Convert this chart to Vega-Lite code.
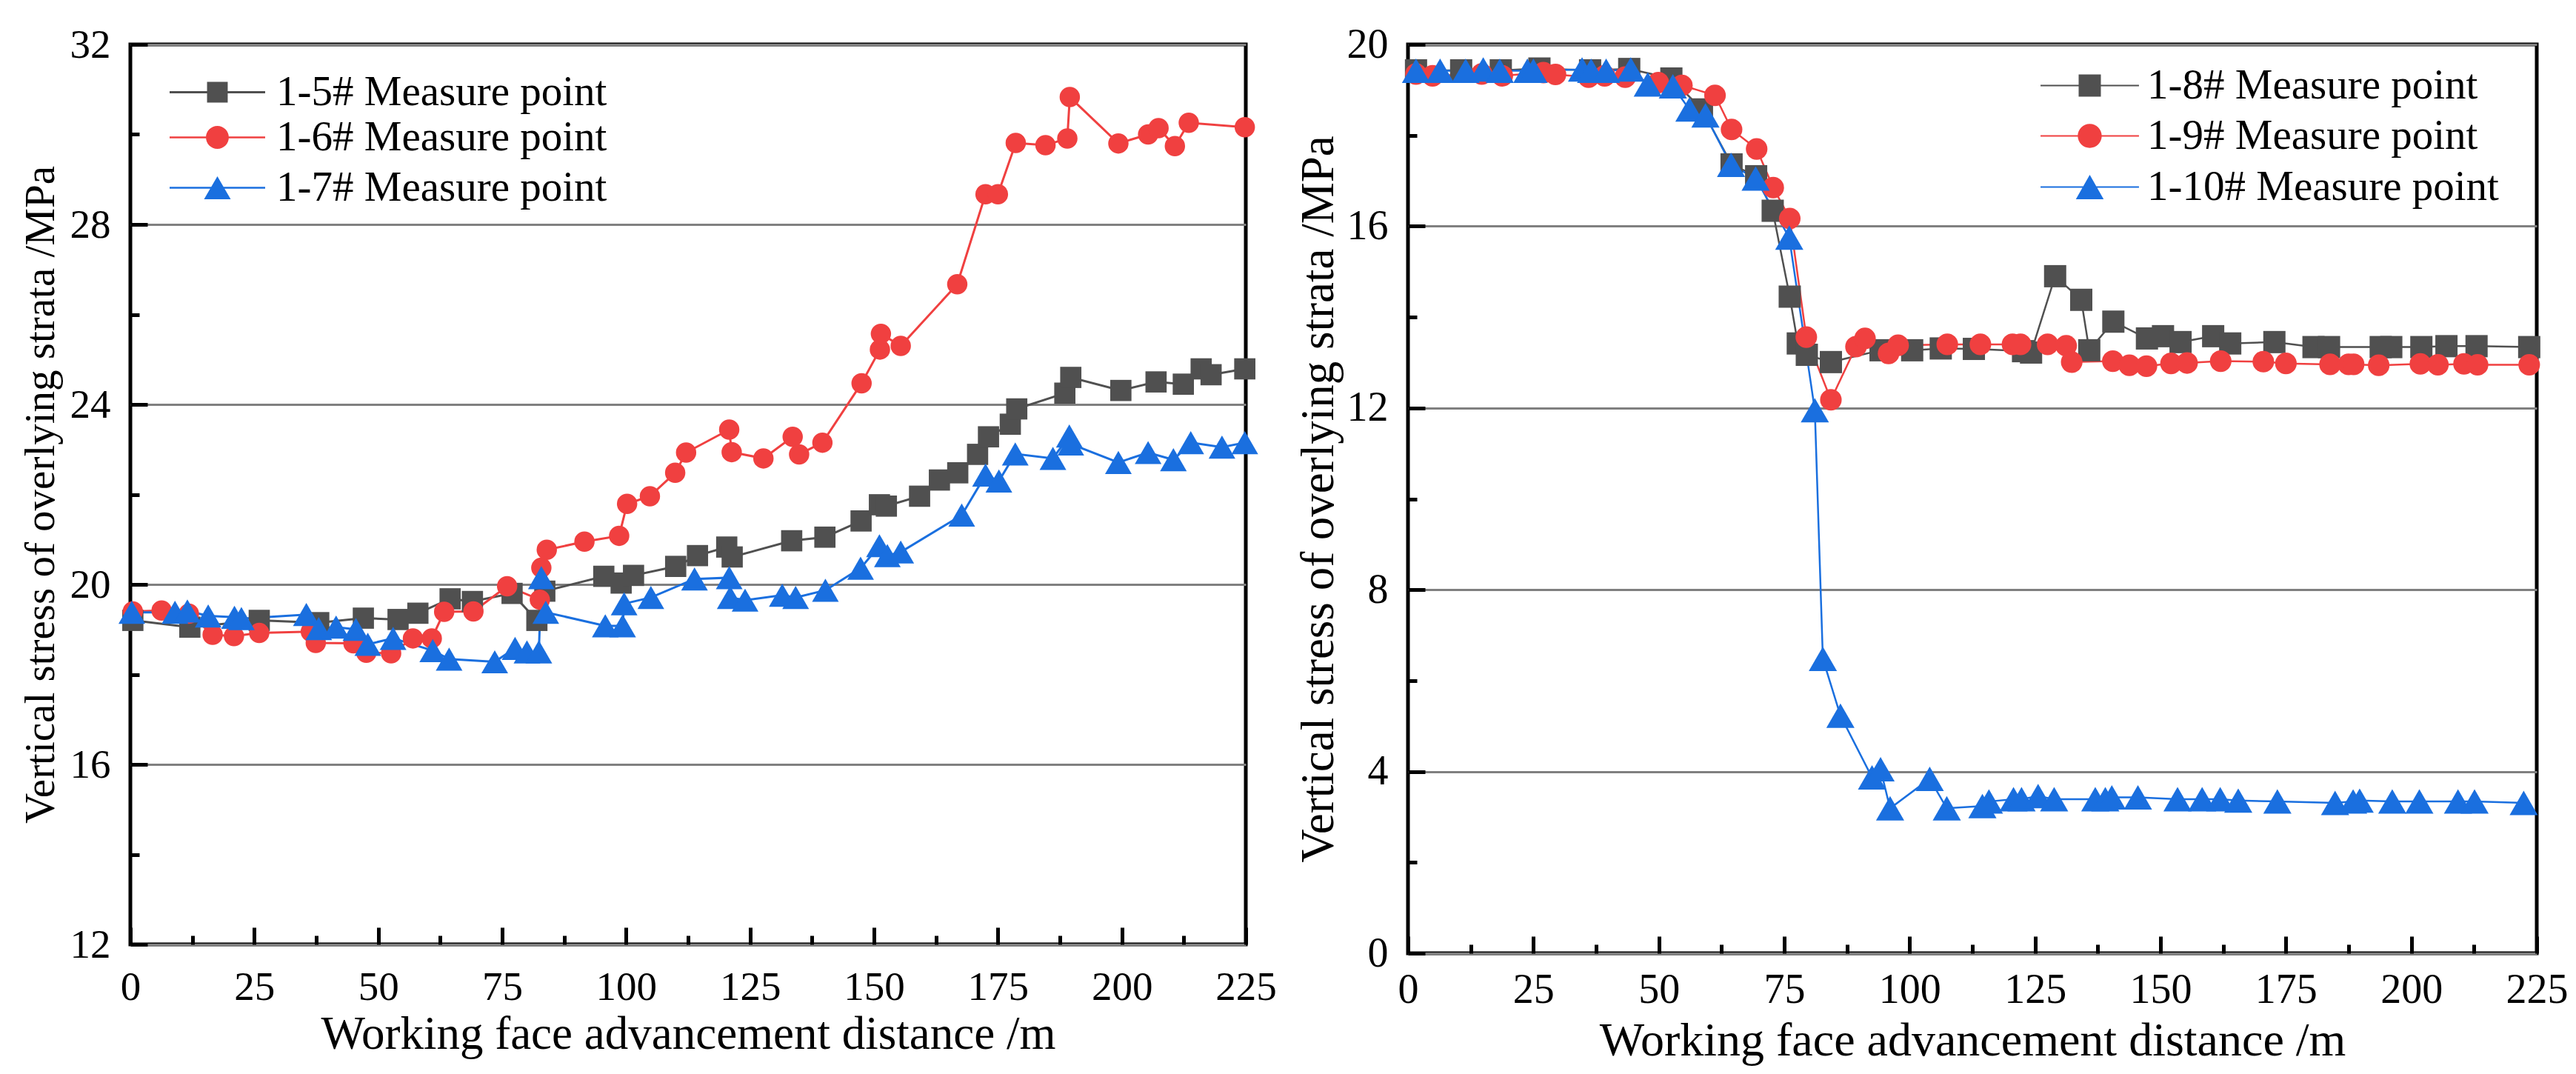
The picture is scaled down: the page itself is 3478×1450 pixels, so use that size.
{
  "$schema": "https://vega.github.io/schema/vega-lite/v6.json",
  "description": "Vertical stress of overlying strata against working face advancement distance, two groups of measure points.",
  "background": "white",
  "padding": {"left": 23, "top": 29, "right": 10, "bottom": 0},
  "spacing": 20,
  "resolve": {"scale": {"color": "independent", "shape": "independent", "opacity": "independent", "stroke": "independent"}},
  "config": {
    "font": "Times New Roman",
    "view": {"stroke": "black", "strokeWidth": 5},
    "axis": {
      "domain": false,
      "tickColor": "black",
      "tickWidth": 5,
      "labelColor": "black",
      "titleColor": "black",
      "labelFont": "Times New Roman",
      "titleFont": "Times New Roman",
      "titleFontWeight": "normal",
      "labelFlush": false,
      "labelOverlap": false,
      "gridColor": "#808080",
      "gridWidth": 3
    },
    "legend": {
      "orient": "none",
      "title": null,
      "padding": 0,
      "symbolSize": 900,
      "symbolStrokeWidth": 0,
      "labelOffset": 51,
      "labelFont": "Times New Roman",
      "labelColor": "black",
      "labelLimit": 1000
    }
  },
  "datasets": {
    "left": [
      {"d": 0.5, "s": 19.2, "series": "1-5# Measure point"},
      {"d": 12, "s": 19.05, "series": "1-5# Measure point"},
      {"d": 26, "s": 19.2, "series": "1-5# Measure point"},
      {"d": 38, "s": 19.15, "series": "1-5# Measure point"},
      {"d": 47, "s": 19.25, "series": "1-5# Measure point"},
      {"d": 54, "s": 19.22, "series": "1-5# Measure point"},
      {"d": 58, "s": 19.36, "series": "1-5# Measure point"},
      {"d": 64.5, "s": 19.68, "series": "1-5# Measure point"},
      {"d": 69, "s": 19.62, "series": "1-5# Measure point"},
      {"d": 77, "s": 19.8, "series": "1-5# Measure point"},
      {"d": 82, "s": 19.2, "series": "1-5# Measure point"},
      {"d": 83.6, "s": 19.85, "series": "1-5# Measure point"},
      {"d": 95.5, "s": 20.18, "series": "1-5# Measure point"},
      {"d": 99, "s": 20.03, "series": "1-5# Measure point"},
      {"d": 101.5, "s": 20.2, "series": "1-5# Measure point"},
      {"d": 110, "s": 20.4, "series": "1-5# Measure point"},
      {"d": 114.4, "s": 20.64, "series": "1-5# Measure point"},
      {"d": 120.3, "s": 20.83, "series": "1-5# Measure point"},
      {"d": 121.4, "s": 20.61, "series": "1-5# Measure point"},
      {"d": 133.4, "s": 20.97, "series": "1-5# Measure point"},
      {"d": 140.1, "s": 21.05, "series": "1-5# Measure point"},
      {"d": 147.4, "s": 21.41, "series": "1-5# Measure point"},
      {"d": 151.1, "s": 21.77, "series": "1-5# Measure point"},
      {"d": 152.5, "s": 21.74, "series": "1-5# Measure point"},
      {"d": 159.2, "s": 21.96, "series": "1-5# Measure point"},
      {"d": 163.2, "s": 22.32, "series": "1-5# Measure point"},
      {"d": 166.9, "s": 22.48, "series": "1-5# Measure point"},
      {"d": 170.9, "s": 22.89, "series": "1-5# Measure point"},
      {"d": 173.1, "s": 23.28, "series": "1-5# Measure point"},
      {"d": 177.5, "s": 23.56, "series": "1-5# Measure point"},
      {"d": 178.8, "s": 23.9, "series": "1-5# Measure point"},
      {"d": 188.5, "s": 24.25, "series": "1-5# Measure point"},
      {"d": 189.7, "s": 24.6, "series": "1-5# Measure point"},
      {"d": 199.8, "s": 24.31, "series": "1-5# Measure point"},
      {"d": 206.9, "s": 24.5, "series": "1-5# Measure point"},
      {"d": 212.4, "s": 24.45, "series": "1-5# Measure point"},
      {"d": 216, "s": 24.79, "series": "1-5# Measure point"},
      {"d": 218, "s": 24.66, "series": "1-5# Measure point"},
      {"d": 224.8, "s": 24.79, "series": "1-5# Measure point"},
      {"d": 0.5, "s": 19.4, "series": "1-6# Measure point"},
      {"d": 6.3, "s": 19.42, "series": "1-6# Measure point"},
      {"d": 11.8, "s": 19.35, "series": "1-6# Measure point"},
      {"d": 16.6, "s": 18.88, "series": "1-6# Measure point"},
      {"d": 20.9, "s": 18.85, "series": "1-6# Measure point"},
      {"d": 26, "s": 18.92, "series": "1-6# Measure point"},
      {"d": 36.4, "s": 18.95, "series": "1-6# Measure point"},
      {"d": 37.4, "s": 18.7, "series": "1-6# Measure point"},
      {"d": 45, "s": 18.69, "series": "1-6# Measure point"},
      {"d": 47.6, "s": 18.48, "series": "1-6# Measure point"},
      {"d": 52.6, "s": 18.47, "series": "1-6# Measure point"},
      {"d": 57, "s": 18.8, "series": "1-6# Measure point"},
      {"d": 60.8, "s": 18.8, "series": "1-6# Measure point"},
      {"d": 63.3, "s": 19.39, "series": "1-6# Measure point"},
      {"d": 69.2, "s": 19.4, "series": "1-6# Measure point"},
      {"d": 76, "s": 19.96, "series": "1-6# Measure point"},
      {"d": 82.6, "s": 19.66, "series": "1-6# Measure point"},
      {"d": 82.9, "s": 20.37, "series": "1-6# Measure point"},
      {"d": 84, "s": 20.77, "series": "1-6# Measure point"},
      {"d": 91.6, "s": 20.95, "series": "1-6# Measure point"},
      {"d": 98.6, "s": 21.08, "series": "1-6# Measure point"},
      {"d": 100.2, "s": 21.79, "series": "1-6# Measure point"},
      {"d": 104.8, "s": 21.96, "series": "1-6# Measure point"},
      {"d": 109.9, "s": 22.48, "series": "1-6# Measure point"},
      {"d": 112.1, "s": 22.93, "series": "1-6# Measure point"},
      {"d": 120.8, "s": 23.44, "series": "1-6# Measure point"},
      {"d": 121.3, "s": 22.94, "series": "1-6# Measure point"},
      {"d": 127.7, "s": 22.8, "series": "1-6# Measure point"},
      {"d": 133.6, "s": 23.28, "series": "1-6# Measure point"},
      {"d": 134.9, "s": 22.89, "series": "1-6# Measure point"},
      {"d": 139.6, "s": 23.15, "series": "1-6# Measure point"},
      {"d": 147.5, "s": 24.47, "series": "1-6# Measure point"},
      {"d": 151.2, "s": 25.22, "series": "1-6# Measure point"},
      {"d": 151.4, "s": 25.57, "series": "1-6# Measure point"},
      {"d": 155.4, "s": 25.3, "series": "1-6# Measure point"},
      {"d": 166.8, "s": 26.67, "series": "1-6# Measure point"},
      {"d": 172.5, "s": 28.67, "series": "1-6# Measure point"},
      {"d": 175, "s": 28.67, "series": "1-6# Measure point"},
      {"d": 178.6, "s": 29.81, "series": "1-6# Measure point"},
      {"d": 184.6, "s": 29.76, "series": "1-6# Measure point"},
      {"d": 189, "s": 29.91, "series": "1-6# Measure point"},
      {"d": 189.5, "s": 30.83, "series": "1-6# Measure point"},
      {"d": 199.3, "s": 29.8, "series": "1-6# Measure point"},
      {"d": 205.3, "s": 30, "series": "1-6# Measure point"},
      {"d": 207.4, "s": 30.14, "series": "1-6# Measure point"},
      {"d": 210.7, "s": 29.74, "series": "1-6# Measure point"},
      {"d": 213.5, "s": 30.26, "series": "1-6# Measure point"},
      {"d": 224.8, "s": 30.16, "series": "1-6# Measure point"},
      {"d": 0.3, "s": 19.38, "series": "1-7# Measure point"},
      {"d": 9, "s": 19.38, "series": "1-7# Measure point"},
      {"d": 11.5, "s": 19.41, "series": "1-7# Measure point"},
      {"d": 15.7, "s": 19.3, "series": "1-7# Measure point"},
      {"d": 21, "s": 19.27, "series": "1-7# Measure point"},
      {"d": 22.4, "s": 19.24, "series": "1-7# Measure point"},
      {"d": 35.5, "s": 19.33, "series": "1-7# Measure point"},
      {"d": 38, "s": 19.02, "series": "1-7# Measure point"},
      {"d": 41.5, "s": 19.05, "series": "1-7# Measure point"},
      {"d": 45.5, "s": 19, "series": "1-7# Measure point"},
      {"d": 47.9, "s": 18.67, "series": "1-7# Measure point"},
      {"d": 53, "s": 18.8, "series": "1-7# Measure point"},
      {"d": 61, "s": 18.53, "series": "1-7# Measure point"},
      {"d": 64.3, "s": 18.34, "series": "1-7# Measure point"},
      {"d": 73.5, "s": 18.28, "series": "1-7# Measure point"},
      {"d": 77.6, "s": 18.58, "series": "1-7# Measure point"},
      {"d": 80, "s": 18.5, "series": "1-7# Measure point"},
      {"d": 82.4, "s": 18.5, "series": "1-7# Measure point"},
      {"d": 82.9, "s": 20.15, "series": "1-7# Measure point"},
      {"d": 83.8, "s": 19.38, "series": "1-7# Measure point"},
      {"d": 95.8, "s": 19.08, "series": "1-7# Measure point"},
      {"d": 99.3, "s": 19.08, "series": "1-7# Measure point"},
      {"d": 99.6, "s": 19.57, "series": "1-7# Measure point"},
      {"d": 105, "s": 19.71, "series": "1-7# Measure point"},
      {"d": 113.8, "s": 20.12, "series": "1-7# Measure point"},
      {"d": 120.8, "s": 20.15, "series": "1-7# Measure point"},
      {"d": 121, "s": 19.71, "series": "1-7# Measure point"},
      {"d": 124, "s": 19.65, "series": "1-7# Measure point"},
      {"d": 131.5, "s": 19.76, "series": "1-7# Measure point"},
      {"d": 134.2, "s": 19.71, "series": "1-7# Measure point"},
      {"d": 140.2, "s": 19.87, "series": "1-7# Measure point"},
      {"d": 147.3, "s": 20.36, "series": "1-7# Measure point"},
      {"d": 151.1, "s": 20.86, "series": "1-7# Measure point"},
      {"d": 152.7, "s": 20.64, "series": "1-7# Measure point"},
      {"d": 155.4, "s": 20.72, "series": "1-7# Measure point"},
      {"d": 167.7, "s": 21.54, "series": "1-7# Measure point"},
      {"d": 172.5, "s": 22.43, "series": "1-7# Measure point"},
      {"d": 175.2, "s": 22.3, "series": "1-7# Measure point"},
      {"d": 178.5, "s": 22.9, "series": "1-7# Measure point"},
      {"d": 186.1, "s": 22.8, "series": "1-7# Measure point"},
      {"d": 189.4, "s": 23.3, "series": "1-7# Measure point"},
      {"d": 189.7, "s": 23.12, "series": "1-7# Measure point"},
      {"d": 199.3, "s": 22.71, "series": "1-7# Measure point"},
      {"d": 205.3, "s": 22.93, "series": "1-7# Measure point"},
      {"d": 210.4, "s": 22.77, "series": "1-7# Measure point"},
      {"d": 213.9, "s": 23.15, "series": "1-7# Measure point"},
      {"d": 220.2, "s": 23.05, "series": "1-7# Measure point"},
      {"d": 224.8, "s": 23.15, "series": "1-7# Measure point"}
    ],
    "right": [
      {"d": 1.6, "s": 19.43, "series": "1-8# Measure point"},
      {"d": 10.6, "s": 19.43, "series": "1-8# Measure point"},
      {"d": 18.5, "s": 19.43, "series": "1-8# Measure point"},
      {"d": 26.2, "s": 19.47, "series": "1-8# Measure point"},
      {"d": 36.3, "s": 19.43, "series": "1-8# Measure point"},
      {"d": 44.1, "s": 19.46, "series": "1-8# Measure point"},
      {"d": 52.5, "s": 19.25, "series": "1-8# Measure point"},
      {"d": 58.6, "s": 18.57, "series": "1-8# Measure point"},
      {"d": 64.5, "s": 17.36, "series": "1-8# Measure point"},
      {"d": 69.4, "s": 17.1, "series": "1-8# Measure point"},
      {"d": 72.7, "s": 16.34, "series": "1-8# Measure point"},
      {"d": 76.1, "s": 14.45, "series": "1-8# Measure point"},
      {"d": 77.7, "s": 13.42, "series": "1-8# Measure point"},
      {"d": 79.5, "s": 13.17, "series": "1-8# Measure point"},
      {"d": 84.3, "s": 13.01, "series": "1-8# Measure point"},
      {"d": 94.2, "s": 13.27, "series": "1-8# Measure point"},
      {"d": 100.5, "s": 13.27, "series": "1-8# Measure point"},
      {"d": 106.2, "s": 13.31, "series": "1-8# Measure point"},
      {"d": 112.8, "s": 13.3, "series": "1-8# Measure point"},
      {"d": 122.6, "s": 13.25, "series": "1-8# Measure point"},
      {"d": 124.2, "s": 13.22, "series": "1-8# Measure point"},
      {"d": 129, "s": 14.9, "series": "1-8# Measure point"},
      {"d": 134.2, "s": 14.38, "series": "1-8# Measure point"},
      {"d": 135.8, "s": 13.27, "series": "1-8# Measure point"},
      {"d": 140.6, "s": 13.9, "series": "1-8# Measure point"},
      {"d": 147.3, "s": 13.53, "series": "1-8# Measure point"},
      {"d": 150.5, "s": 13.58, "series": "1-8# Measure point"},
      {"d": 154, "s": 13.45, "series": "1-8# Measure point"},
      {"d": 160.5, "s": 13.58, "series": "1-8# Measure point"},
      {"d": 163.9, "s": 13.42, "series": "1-8# Measure point"},
      {"d": 172.7, "s": 13.45, "series": "1-8# Measure point"},
      {"d": 180.5, "s": 13.34, "series": "1-8# Measure point"},
      {"d": 183.6, "s": 13.34, "series": "1-8# Measure point"},
      {"d": 193.9, "s": 13.34, "series": "1-8# Measure point"},
      {"d": 196, "s": 13.34, "series": "1-8# Measure point"},
      {"d": 202, "s": 13.34, "series": "1-8# Measure point"},
      {"d": 207, "s": 13.36, "series": "1-8# Measure point"},
      {"d": 213, "s": 13.36, "series": "1-8# Measure point"},
      {"d": 223.5, "s": 13.34, "series": "1-8# Measure point"},
      {"d": 1.6, "s": 19.35, "series": "1-9# Measure point"},
      {"d": 4.9, "s": 19.31, "series": "1-9# Measure point"},
      {"d": 14.7, "s": 19.35, "series": "1-9# Measure point"},
      {"d": 18.8, "s": 19.31, "series": "1-9# Measure point"},
      {"d": 27, "s": 19.38, "series": "1-9# Measure point"},
      {"d": 29.4, "s": 19.34, "series": "1-9# Measure point"},
      {"d": 36, "s": 19.28, "series": "1-9# Measure point"},
      {"d": 39.2, "s": 19.31, "series": "1-9# Measure point"},
      {"d": 43.3, "s": 19.28, "series": "1-9# Measure point"},
      {"d": 49.9, "s": 19.16, "series": "1-9# Measure point"},
      {"d": 54.6, "s": 19.1, "series": "1-9# Measure point"},
      {"d": 61.2, "s": 18.88, "series": "1-9# Measure point"},
      {"d": 64.5, "s": 18.13, "series": "1-9# Measure point"},
      {"d": 69.5, "s": 17.7, "series": "1-9# Measure point"},
      {"d": 72.8, "s": 16.85, "series": "1-9# Measure point"},
      {"d": 76.1, "s": 16.17, "series": "1-9# Measure point"},
      {"d": 79.4, "s": 13.56, "series": "1-9# Measure point"},
      {"d": 84.3, "s": 12.18, "series": "1-9# Measure point"},
      {"d": 89.3, "s": 13.35, "series": "1-9# Measure point"},
      {"d": 91.1, "s": 13.53, "series": "1-9# Measure point"},
      {"d": 95.8, "s": 13.2, "series": "1-9# Measure point"},
      {"d": 97.7, "s": 13.38, "series": "1-9# Measure point"},
      {"d": 107.5, "s": 13.4, "series": "1-9# Measure point"},
      {"d": 114.1, "s": 13.4, "series": "1-9# Measure point"},
      {"d": 120.5, "s": 13.4, "series": "1-9# Measure point"},
      {"d": 122.1, "s": 13.4, "series": "1-9# Measure point"},
      {"d": 127.5, "s": 13.4, "series": "1-9# Measure point"},
      {"d": 131.2, "s": 13.37, "series": "1-9# Measure point"},
      {"d": 132.3, "s": 13.01, "series": "1-9# Measure point"},
      {"d": 140.5, "s": 13.03, "series": "1-9# Measure point"},
      {"d": 143.8, "s": 12.94, "series": "1-9# Measure point"},
      {"d": 147.2, "s": 12.92, "series": "1-9# Measure point"},
      {"d": 152.1, "s": 12.98, "series": "1-9# Measure point"},
      {"d": 155.3, "s": 12.99, "series": "1-9# Measure point"},
      {"d": 162, "s": 13.03, "series": "1-9# Measure point"},
      {"d": 170.5, "s": 13.02, "series": "1-9# Measure point"},
      {"d": 175, "s": 12.98, "series": "1-9# Measure point"},
      {"d": 183.8, "s": 12.96, "series": "1-9# Measure point"},
      {"d": 187.5, "s": 12.96, "series": "1-9# Measure point"},
      {"d": 188.5, "s": 12.96, "series": "1-9# Measure point"},
      {"d": 193.5, "s": 12.94, "series": "1-9# Measure point"},
      {"d": 201.8, "s": 12.97, "series": "1-9# Measure point"},
      {"d": 205.3, "s": 12.95, "series": "1-9# Measure point"},
      {"d": 210.5, "s": 12.97, "series": "1-9# Measure point"},
      {"d": 213.2, "s": 12.95, "series": "1-9# Measure point"},
      {"d": 223.5, "s": 12.95, "series": "1-9# Measure point"},
      {"d": 1.6, "s": 19.42, "series": "1-10# Measure point"},
      {"d": 6.4, "s": 19.42, "series": "1-10# Measure point"},
      {"d": 11.5, "s": 19.42, "series": "1-10# Measure point"},
      {"d": 15, "s": 19.45, "series": "1-10# Measure point"},
      {"d": 18.3, "s": 19.42, "series": "1-10# Measure point"},
      {"d": 23.8, "s": 19.42, "series": "1-10# Measure point"},
      {"d": 25, "s": 19.42, "series": "1-10# Measure point"},
      {"d": 34.7, "s": 19.45, "series": "1-10# Measure point"},
      {"d": 36.5, "s": 19.42, "series": "1-10# Measure point"},
      {"d": 39.5, "s": 19.42, "series": "1-10# Measure point"},
      {"d": 44.4, "s": 19.45, "series": "1-10# Measure point"},
      {"d": 47.8, "s": 19.12, "series": "1-10# Measure point"},
      {"d": 52.8, "s": 19.08, "series": "1-10# Measure point"},
      {"d": 56.1, "s": 18.57, "series": "1-10# Measure point"},
      {"d": 59.3, "s": 18.44, "series": "1-10# Measure point"},
      {"d": 64.4, "s": 17.35, "series": "1-10# Measure point"},
      {"d": 69.3, "s": 17.05, "series": "1-10# Measure point"},
      {"d": 76, "s": 15.75, "series": "1-10# Measure point"},
      {"d": 81.1, "s": 11.95, "series": "1-10# Measure point"},
      {"d": 82.7, "s": 6.48, "series": "1-10# Measure point"},
      {"d": 86.2, "s": 5.23, "series": "1-10# Measure point"},
      {"d": 92.5, "s": 3.87, "series": "1-10# Measure point"},
      {"d": 94.2, "s": 4.05, "series": "1-10# Measure point"},
      {"d": 96.1, "s": 3.19, "series": "1-10# Measure point"},
      {"d": 104, "s": 3.84, "series": "1-10# Measure point"},
      {"d": 107.4, "s": 3.19, "series": "1-10# Measure point"},
      {"d": 114.5, "s": 3.24, "series": "1-10# Measure point"},
      {"d": 115.8, "s": 3.34, "series": "1-10# Measure point"},
      {"d": 120.7, "s": 3.39, "series": "1-10# Measure point"},
      {"d": 122.3, "s": 3.39, "series": "1-10# Measure point"},
      {"d": 125.6, "s": 3.46, "series": "1-10# Measure point"},
      {"d": 128.8, "s": 3.39, "series": "1-10# Measure point"},
      {"d": 137, "s": 3.39, "series": "1-10# Measure point"},
      {"d": 139, "s": 3.39, "series": "1-10# Measure point"},
      {"d": 140.3, "s": 3.43, "series": "1-10# Measure point"},
      {"d": 145.5, "s": 3.43, "series": "1-10# Measure point"},
      {"d": 153.4, "s": 3.39, "series": "1-10# Measure point"},
      {"d": 158.3, "s": 3.39, "series": "1-10# Measure point"},
      {"d": 161.9, "s": 3.39, "series": "1-10# Measure point"},
      {"d": 165.5, "s": 3.36, "series": "1-10# Measure point"},
      {"d": 173.3, "s": 3.34, "series": "1-10# Measure point"},
      {"d": 184.8, "s": 3.31, "series": "1-10# Measure point"},
      {"d": 188.4, "s": 3.34, "series": "1-10# Measure point"},
      {"d": 189.7, "s": 3.36, "series": "1-10# Measure point"},
      {"d": 196.2, "s": 3.34, "series": "1-10# Measure point"},
      {"d": 201.6, "s": 3.34, "series": "1-10# Measure point"},
      {"d": 209.3, "s": 3.34, "series": "1-10# Measure point"},
      {"d": 212.6, "s": 3.34, "series": "1-10# Measure point"},
      {"d": 222.4, "s": 3.31, "series": "1-10# Measure point"}
    ]
  },
  "hconcat": [
    {
      "width": 1506,
      "height": 1215,
      "data": {"name": "left"},
      "resolve": {"axis": {"x": "independent", "y": "independent"}},
      "layer": [
        {
          "mark": {"type": "line", "strokeWidth": 3},
          "encoding": {
            "x": {
              "field": "d", "type": "quantitative",
              "scale": {"domain": [0, 225], "nice": false, "zero": false},
              "axis": {
                "orient": "bottom", "values": [0, 25, 50, 75, 100, 125, 150, 175, 200, 225],
                "title": "Working face advancement distance /m",
                "labelFontSize": 55, "titleFontSize": 63,
                "tickSize": -23, "labelPadding": 54, "titlePadding": 5, "grid": false
              }
            },
            "y": {
              "field": "s", "type": "quantitative",
              "scale": {"domain": [12, 32], "nice": false, "zero": false},
              "axis": {
                "orient": "left", "values": [12, 16, 20, 24, 28, 32],
                "title": "Vertical stress of overlying strata /MPa",
                "labelFontSize": 55, "titleFontSize": 57,
                "tickSize": -23, "labelPadding": 50, "titlePadding": 10, "grid": true
              }
            },
            "color": {
              "field": "series", "type": "nominal",
              "scale": {
                "domain": ["1-5# Measure point", "1-6# Measure point", "1-7# Measure point"],
                "range": ["#505050", "#f04040", "#1a6fdf"]
              },
              "legend": null
            }
          }
        },
        {
          "transform": [{"filter": "false"}],
          "mark": {"type": "point", "filled": true, "opacity": 1, "color": "#505050"},
          "encoding": {
            "x": {"field": "d", "type": "quantitative", "axis": null},
            "y": {"field": "s", "type": "quantitative", "axis": null},
            "shape": {
              "field": "series", "type": "nominal",
              "scale": {"domain": ["1-5# Measure point"], "range": ["M-4.3,-0.1L4.3,-0.1L4.3,0.1L-4.3,0.1ZM-0.93,-0.93L0.93,-0.93L0.93,0.93L-0.93,0.93Z"]},
              "legend": {"legendX": 89, "legendY": 36, "labelFontSize": 57, "symbolFillColor": "#505050"}
            }
          }
        },
        {
          "transform": [{"filter": "false"}],
          "mark": {"type": "point", "filled": true, "color": "#f04040"},
          "encoding": {
            "x": {"field": "d", "type": "quantitative", "axis": null},
            "y": {"field": "s", "type": "quantitative", "axis": null},
            "opacity": {
              "field": "series", "type": "ordinal",
              "scale": {"domain": ["1-6# Measure point"], "range": [1]},
              "legend": {
                "legendX": 89, "legendY": 97, "labelFontSize": 57, "symbolFillColor": "#f04040",
                "symbolType": "M-4.3,-0.08L4.3,-0.08L4.3,0.08L-4.3,0.08ZM-1.03,0A1.03,1.03,0,1,1,1.03,0A1.03,1.03,0,1,1,-1.03,0Z"
              }
            }
          }
        },
        {
          "transform": [{"filter": "false"}],
          "mark": {"type": "point", "filled": true, "opacity": 1, "color": "#1a6fdf"},
          "encoding": {
            "x": {"field": "d", "type": "quantitative", "axis": null},
            "y": {"field": "s", "type": "quantitative", "axis": null},
            "stroke": {
              "field": "series", "type": "nominal",
              "scale": {"domain": ["1-7# Measure point"], "range": ["#1a6fdf"]},
              "legend": {
                "legendX": 89, "legendY": 165, "labelFontSize": 57, "symbolFillColor": "#1a6fdf",
                "symbolType": "M-4.3,-0.08L4.3,-0.08L4.3,0.08L-4.3,0.08ZM0,-1.04L1.2,1.04L-1.2,1.04Z"
              }
            }
          }
        },
        {
          "transform": [{"filter": "datum.series === '1-5# Measure point'"}],
          "mark": {"type": "point", "shape": "square", "filled": true, "opacity": 1, "size": 820, "color": "#505050"},
          "encoding": {
            "x": {"field": "d", "type": "quantitative", "axis": null},
            "y": {"field": "s", "type": "quantitative", "axis": null}
          }
        },
        {
          "transform": [{"filter": "datum.series === '1-6# Measure point'"}],
          "mark": {"type": "point", "shape": "circle", "filled": true, "opacity": 1, "size": 755, "color": "#f04040"},
          "encoding": {
            "x": {"field": "d", "type": "quantitative", "axis": null},
            "y": {"field": "s", "type": "quantitative", "axis": null}
          }
        },
        {
          "transform": [{"filter": "datum.series === '1-7# Measure point'"}],
          "mark": {"type": "point", "shape": "triangle-up", "filled": true, "opacity": 1, "size": 1300, "color": "#1a6fdf"},
          "encoding": {
            "x": {"field": "d", "type": "quantitative", "axis": null},
            "y": {"field": "s", "type": "quantitative", "axis": null}
          }
        },
        {
          "mark": {"type": "line", "opacity": 0},
          "encoding": {
            "x": {
              "field": "d", "type": "quantitative",
              "axis": {
                "orient": "bottom", "values": [12.5, 37.5, 62.5, 87.5, 112.5, 137.5, 162.5, 187.5, 212.5],
                "labels": false, "title": null, "tickSize": -12, "grid": false
              }
            },
            "y": {
              "field": "s", "type": "quantitative",
              "axis": {
                "orient": "left", "values": [14, 18, 22, 26, 30],
                "labels": false, "title": null, "tickSize": -12, "grid": false
              }
            },
            "detail": {"field": "series", "type": "nominal"}
          }
        }
      ]
    },
    {
      "width": 1524,
      "height": 1227,
      "data": {"name": "right"},
      "resolve": {"axis": {"x": "independent", "y": "independent"}},
      "layer": [
        {
          "mark": {"type": "line", "strokeWidth": 2.5},
          "encoding": {
            "x": {
              "field": "d", "type": "quantitative",
              "scale": {"domain": [0, 225], "nice": false, "zero": false},
              "axis": {
                "orient": "bottom", "values": [0, 25, 50, 75, 100, 125, 150, 175, 200, 225],
                "title": "Working face advancement distance /m",
                "labelFontSize": 56, "titleFontSize": 64,
                "tickSize": -23, "labelPadding": 45, "titlePadding": 9, "grid": false
              }
            },
            "y": {
              "field": "s", "type": "quantitative",
              "scale": {"domain": [0, 20], "nice": false, "zero": false},
              "axis": {
                "orient": "left", "values": [0, 4, 8, 12, 16, 20],
                "title": "Vertical stress of overlying strata /MPa",
                "labelFontSize": 56, "titleFontSize": 63,
                "tickSize": -23, "labelPadding": 50, "titlePadding": 6, "grid": true
              }
            },
            "color": {
              "field": "series", "type": "nominal",
              "scale": {
                "domain": ["1-8# Measure point", "1-9# Measure point", "1-10# Measure point"],
                "range": ["#505050", "#f04040", "#1a6fdf"]
              },
              "legend": null
            }
          }
        },
        {
          "transform": [{"filter": "false"}],
          "mark": {"type": "point", "filled": true, "opacity": 1, "color": "#505050"},
          "encoding": {
            "x": {"field": "d", "type": "quantitative", "axis": null},
            "y": {"field": "s", "type": "quantitative", "axis": null},
            "shape": {
              "field": "series", "type": "nominal",
              "scale": {"domain": ["1-8# Measure point"], "range": ["M-4.43,-0.07L4.43,-0.07L4.43,0.07L-4.43,0.07ZM-1,-1L1,-1L1,1L-1,1Z"]},
              "legend": {"legendX": 892, "legendY": 27, "labelFontSize": 57, "labelOffset": 49, "symbolFillColor": "#505050"}
            }
          }
        },
        {
          "transform": [{"filter": "false"}],
          "mark": {"type": "point", "filled": true, "color": "#f04040"},
          "encoding": {
            "x": {"field": "d", "type": "quantitative", "axis": null},
            "y": {"field": "s", "type": "quantitative", "axis": null},
            "opacity": {
              "field": "series", "type": "ordinal",
              "scale": {"domain": ["1-9# Measure point"], "range": [1]},
              "legend": {
                "legendX": 892, "legendY": 95, "labelFontSize": 57, "labelOffset": 49, "symbolFillColor": "#f04040",
                "symbolType": "M-4.43,-0.07L4.43,-0.07L4.43,0.07L-4.43,0.07ZM-1.08,0A1.08,1.08,0,1,1,1.08,0A1.08,1.08,0,1,1,-1.08,0Z"
              }
            }
          }
        },
        {
          "transform": [{"filter": "false"}],
          "mark": {"type": "point", "filled": true, "opacity": 1, "color": "#1a6fdf"},
          "encoding": {
            "x": {"field": "d", "type": "quantitative", "axis": null},
            "y": {"field": "s", "type": "quantitative", "axis": null},
            "stroke": {
              "field": "series", "type": "nominal",
              "scale": {"domain": ["1-10# Measure point"], "range": ["#1a6fdf"]},
              "legend": {
                "legendX": 892, "legendY": 164, "labelFontSize": 57, "labelOffset": 49, "symbolFillColor": "#1a6fdf",
                "symbolType": "M-4.43,-0.07L4.43,-0.07L4.43,0.07L-4.43,0.07ZM0,-1.1L1.25,1.1L-1.25,1.1Z"
              }
            }
          }
        },
        {
          "transform": [{"filter": "datum.series === '1-8# Measure point'"}],
          "mark": {"type": "point", "shape": "square", "filled": true, "opacity": 1, "size": 900, "color": "#505050"},
          "encoding": {
            "x": {"field": "d", "type": "quantitative", "axis": null},
            "y": {"field": "s", "type": "quantitative", "axis": null}
          }
        },
        {
          "transform": [{"filter": "datum.series === '1-9# Measure point'"}],
          "mark": {"type": "point", "shape": "circle", "filled": true, "opacity": 1, "size": 850, "color": "#f04040"},
          "encoding": {
            "x": {"field": "d", "type": "quantitative", "axis": null},
            "y": {"field": "s", "type": "quantitative", "axis": null}
          }
        },
        {
          "transform": [{"filter": "datum.series === '1-10# Measure point'"}],
          "mark": {"type": "point", "shape": "triangle-up", "filled": true, "opacity": 1, "size": 1450, "color": "#1a6fdf"},
          "encoding": {
            "x": {"field": "d", "type": "quantitative", "axis": null},
            "y": {"field": "s", "type": "quantitative", "axis": null}
          }
        },
        {
          "mark": {"type": "line", "opacity": 0},
          "encoding": {
            "x": {
              "field": "d", "type": "quantitative",
              "axis": {
                "orient": "bottom", "values": [12.5, 37.5, 62.5, 87.5, 112.5, 137.5, 162.5, 187.5, 212.5],
                "labels": false, "title": null, "tickSize": -12, "grid": false
              }
            },
            "y": {
              "field": "s", "type": "quantitative",
              "axis": {
                "orient": "left", "values": [2, 6, 10, 14, 18],
                "labels": false, "title": null, "tickSize": -12, "grid": false
              }
            },
            "detail": {"field": "series", "type": "nominal"}
          }
        }
      ]
    }
  ]
}
